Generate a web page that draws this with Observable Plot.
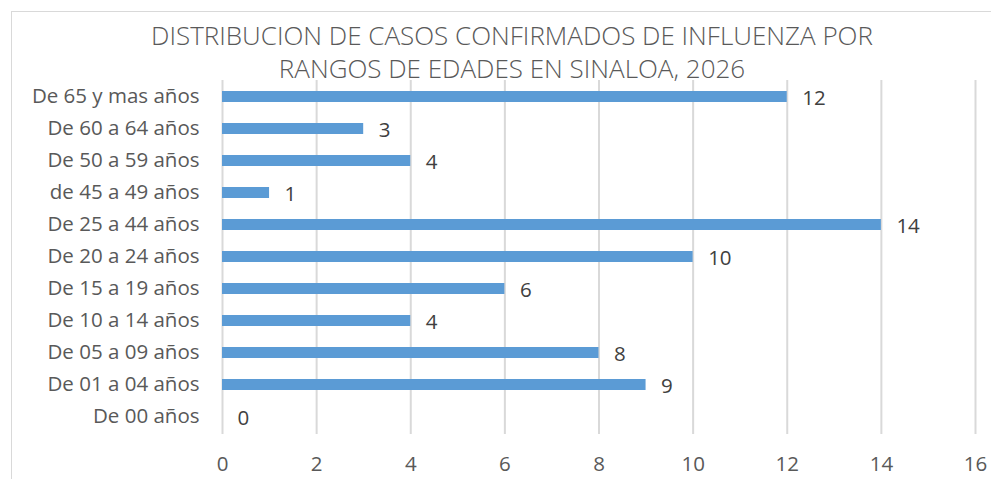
<!DOCTYPE html>
<html><head><meta charset="utf-8">
<script src="https://cdn.jsdelivr.net/npm/d3@7"></script>
<script src="https://cdn.jsdelivr.net/npm/@observablehq/plot@0.6"></script>
<style>
body{margin:0;background:#fff;}
#wrap{position:relative;width:991px;height:479px;overflow:hidden;font-family:"Open Sans",sans-serif;}
#frame{position:absolute;left:11px;top:11px;width:990px;height:480px;border-left:1px solid #d9d9d9;border-top:1px solid #d9d9d9;}
#title{position:absolute;left:0;width:1024px;top:19px;text-align:center;font-size:26px;line-height:33px;color:#595959;font-weight:300;}
#chart{position:absolute;left:0;top:0;}
</style></head>
<body><div id="wrap"><div id="frame"></div><div id="chart"></div>
<div id="title">DISTRIBUCION DE CASOS CONFIRMADOS DE INFLUENZA POR<br>RANGOS DE EDADES EN SINALOA, 2026</div></div>
<script>
const categories = ["De 65 y mas años","De 60 a 64 años","De 50 a 59 años","de 45 a 49 años","De 25 a 44 años","De 20 a 24 años","De 15 a 19 años","De 10 a 14 años","De 05 a 09 años","De 01 a 04 años","De 00 años"];
const values = [12,3,4,1,14,10,6,4,8,9,0];
const xTicks = [0,2,4,6,8,10,12,14,16];
const data = categories.map((c,i)=>({cat:c, v:values[i]}));

const chart = Plot.plot({
  width: 991, height: 479,
  marginTop: 80, marginBottom: 45, marginLeft: 222, marginRight: 16,
  style: {fontFamily: '"Open Sans", sans-serif', fontSize: "20px", color: "#595959", background: "transparent"},
  x: {domain: [0,16], ticks: xTicks, label: null},
  y: {domain: categories, label: null, paddingInner: 0.65, paddingOuter: 0.325},
  marks: [
    Plot.ruleX(xTicks, {stroke: "#d9d9d9", strokeWidth: 2, strokeOpacity: 1}),
    Plot.barX(data, {x: "v", y: "cat", fill: "#5b9bd5"}),
    Plot.text(data, {x: "v", y: "cat", text: d => String(d.v), textAnchor: "start", dx: 15, dy: 1, fill: "#404040", fontSize: 20.5}),
    Plot.axisX({ticks: xTicks, tickSize: 0, tickPadding: 22, fontSize: 20.5, fill: "#595959"}),
    Plot.axisY({tickSize: 0, tickPadding: 23, fontSize: 20.5, fill: "#595959", dy: -1})
  ]
});
document.getElementById("chart").appendChild(chart);
</script></body></html>
